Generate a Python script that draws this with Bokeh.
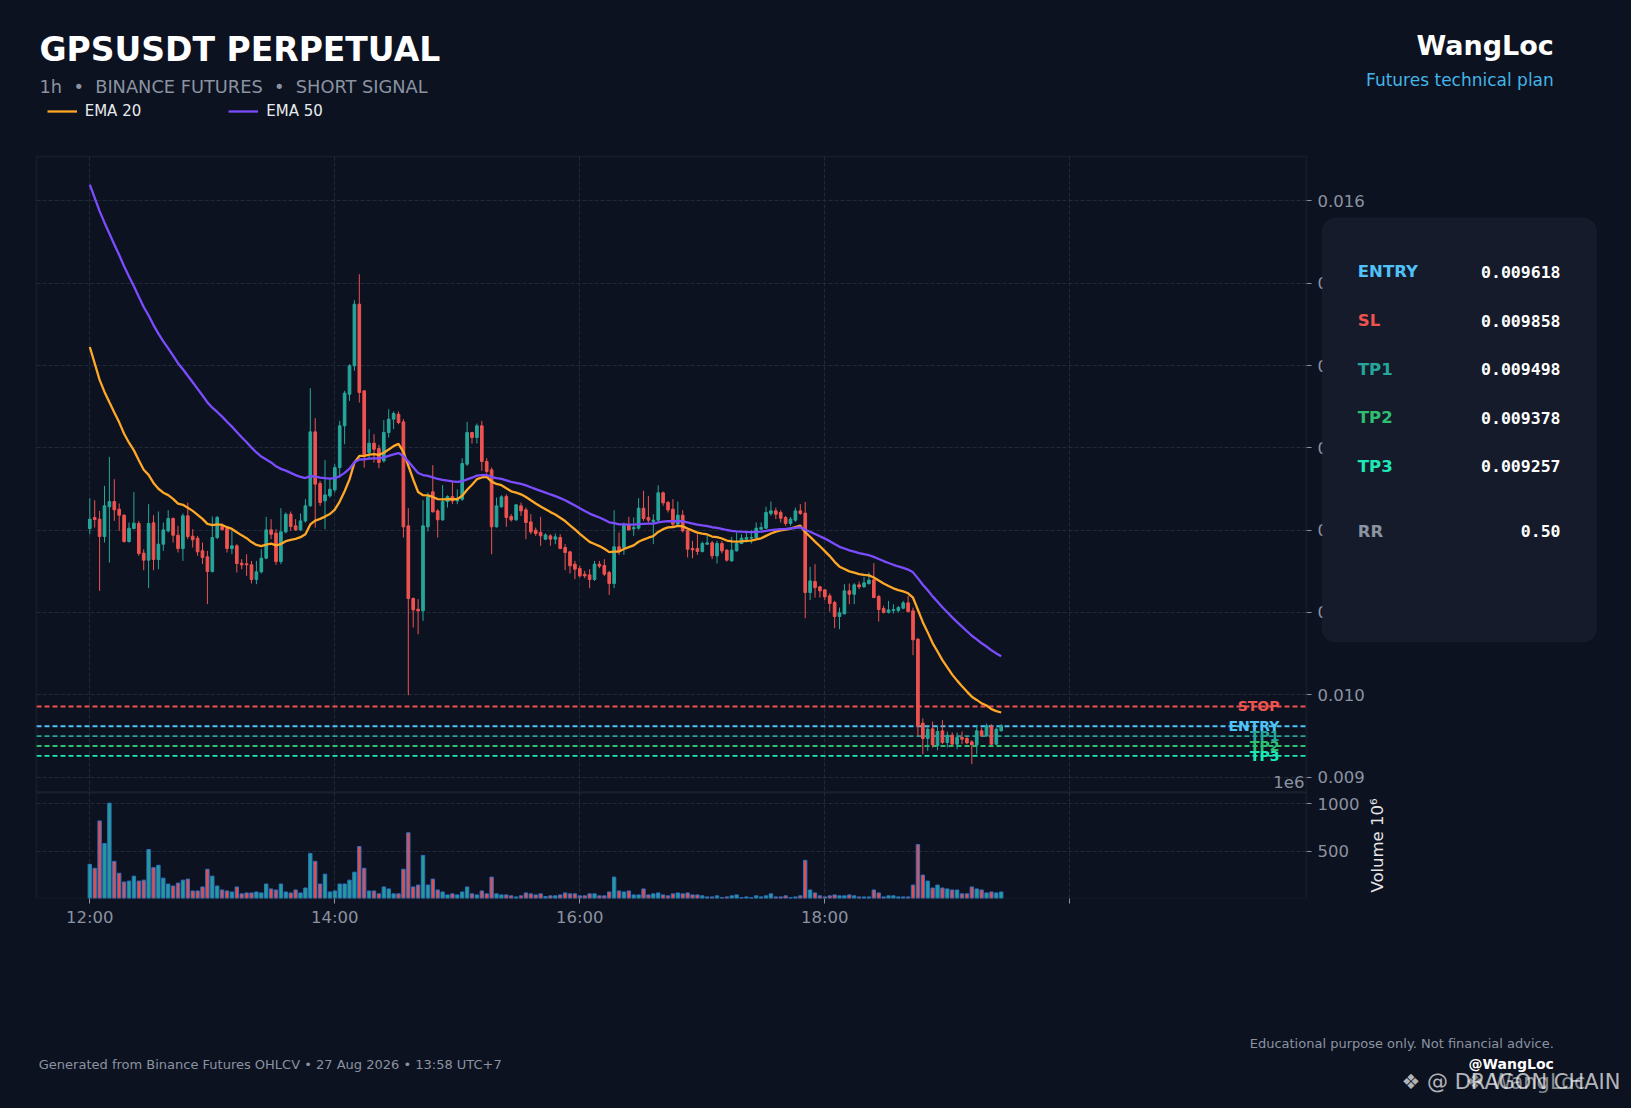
import math
import pandas as pd
from bokeh.plotting import figure
from bokeh.layouts import column
from bokeh.models import (ColumnDataSource, Range1d, FixedTicker, PrintfTickFormatter,
                          Label, BoxAnnotation, Legend, LegendItem, LinearAxis, Grid)
from bokeh.embed import file_html
from bokeh.resources import INLINE

# ---------------- data (prices in micro-USDT, volume in millions) ----------------
symbol = "GPSUSDT PERPETUAL"
start_time = "2026-08-27 12:00"
bar_freq = "144s"

open_micro = [12020, 12154, 12134, 11923, 12284, 12348, 12255, 12182, 11862, 12020,
              12081, 11721, 11636, 12089, 11644, 11830, 11992, 12142, 11939, 11777,
              12174, 11927, 11903, 11749, 11676, 11498, 11911, 12045, 12020, 11777,
              11810, 11599, 11591, 11579, 11401, 11494, 11660, 12004, 11964, 11619,
              11980, 12194, 12053, 12004, 12113, 12296, 13195, 12567, 12356, 12417,
              12490, 12761, 13268, 13652, 13997, 14746, 13693, 12944, 13057, 12992,
              12842, 13187, 13349, 13409, 13316, 12053, 11170, 11040, 11020, 12041,
              12466, 12235, 12126, 12348, 12409, 12356, 12377, 12802, 13187, 13126,
              13268, 12834, 12733, 12041, 12284, 12409, 12166, 12126, 12296, 12247,
              12101, 12000, 11972, 11891, 11931, 11891, 11911, 11789, 11737, 11587,
              11534, 11465, 11457, 11401, 11587, 11571, 11486, 11352, 11798, 11789,
              12065, 12016, 12024, 12267, 12154, 12105, 12122, 12454, 12336, 12255,
              12073, 12182, 12000, 11777, 11777, 11741, 11830, 11846, 11688, 11838,
              11757, 11627, 11749, 11838, 11891, 11903, 11911, 12012, 12024, 12203,
              12235, 12215, 12154, 12081, 12122, 12235, 12207, 11243, 11376, 11312,
              11275, 11202, 11121, 10951, 10983, 11263, 11222, 11336, 11312, 11352,
              11397, 11194, 11048, 11000, 11024, 11024, 11052, 11117, 11020, 10676,
              9655, 9469, 9586, 9380, 9562, 9420, 9509, 9400, 9481, 9469,
              9428, 9392, 9562, 9501, 9615, 9400, 9562]

high_micro = [12389, 12365, 12235, 12539, 12891, 12620, 12324, 12194, 12093, 12462,
              12113, 11769, 12316, 12182, 12227, 12093, 12243, 12154, 12053, 12203,
              12336, 12012, 11931, 11850, 11749, 12166, 12174, 12081, 12041, 11992,
              11830, 11648, 11708, 11627, 11627, 11769, 12162, 12134, 12012, 12267,
              12215, 12227, 12134, 12203, 12377, 13725, 13361, 12599, 12851, 12620,
              12802, 13328, 13693, 14017, 14795, 15110, 13701, 13227, 13166, 13037,
              13337, 13470, 13442, 13442, 13349, 12267, 11182, 11162, 12365, 12458,
              12790, 12255, 12547, 12425, 12599, 12498, 12875, 13316, 13195, 13296,
              13328, 12875, 12761, 12397, 12425, 12437, 12194, 12316, 12336, 12275,
              12194, 12032, 12162, 11960, 11951, 11960, 11951, 11830, 11749, 11627,
              11567, 11506, 11526, 11627, 11627, 11648, 11506, 12243, 11972, 12093,
              12162, 12154, 12389, 12478, 12417, 12194, 12547, 12470, 12356, 12377,
              12348, 12243, 12012, 11870, 11951, 11862, 11931, 11870, 11870, 11870,
              11769, 11919, 11972, 11951, 11972, 12000, 12093, 12093, 12284, 12348,
              12275, 12243, 12174, 12162, 12275, 12316, 12344, 11555, 11587, 11324,
              11283, 11231, 11141, 11060, 11344, 11352, 11356, 11376, 11433, 11486,
              11599, 11214, 11081, 11141, 11101, 11081, 11141, 11202, 11060, 10688,
              9712, 9623, 9675, 9623, 9692, 9554, 9542, 9542, 9554, 9493,
              9449, 9635, 9602, 9651, 9643, 9602, 9643]

low_micro = [11951, 12032, 11263, 11850, 11607, 12113, 11992, 11850, 11850, 12012,
             11688, 11514, 11295, 11514, 11526, 11749, 11972, 11850, 11729, 11627,
             11891, 11789, 11688, 11587, 11101, 11486, 11891, 11992, 11729, 11708,
             11486, 11526, 11445, 11352, 11344, 11474, 11648, 11891, 11579, 11587,
             11960, 11992, 11992, 11992, 12093, 12284, 12032, 12296, 12012, 12397,
             12458, 12640, 13045, 13571, 13936, 13551, 12761, 12863, 12822, 12753,
             12822, 13126, 13227, 13288, 11911, 9995, 10817, 10736, 10898, 11984,
             12215, 11911, 12113, 12275, 12316, 12316, 12356, 12782, 13053, 13053,
             12721, 12689, 11708, 12032, 12275, 12041, 12105, 12113, 12174, 11891,
             11951, 11931, 11810, 11879, 11810, 11830, 11769, 11514, 11474, 11405,
             11425, 11417, 11295, 11384, 11538, 11445, 11214, 11295, 11700, 11700,
             11992, 11931, 12008, 12113, 12093, 11830, 12105, 12296, 12215, 12032,
             12053, 11972, 11668, 11660, 11700, 11729, 11822, 11648, 11595, 11717,
             11619, 11619, 11741, 11830, 11850, 11838, 11903, 12000, 12012, 12174,
             12134, 12093, 12053, 12053, 12101, 12186, 10931, 11150, 11182, 11182,
             11150, 11012, 10809, 10797, 10979, 11101, 11101, 11283, 11303, 11336,
             11174, 10890, 10988, 10988, 10988, 11000, 11040, 11000, 10481, 9501,
             9278, 9319, 9359, 9327, 9400, 9359, 9392, 9339, 9400, 9400,
             9157, 9278, 9489, 9489, 9392, 9392, 9554]

close_micro = [12134, 12130, 11923, 12296, 12348, 12247, 12182, 11862, 12024, 12085,
               11717, 11636, 12081, 11644, 11830, 12004, 12142, 11939, 11777, 12174,
               11923, 11883, 11737, 11668, 11498, 11911, 12154, 12008, 11777, 11810,
               11595, 11579, 11579, 11401, 11494, 11660, 12004, 11951, 11619, 11980,
               12194, 12045, 12004, 12113, 12296, 13195, 12559, 12336, 12429, 12498,
               12761, 13268, 13665, 13997, 14746, 13673, 12923, 13057, 12984, 12822,
               13187, 13349, 13418, 13308, 12041, 11170, 11032, 11020, 12053, 12405,
               12223, 12126, 12348, 12409, 12356, 12389, 12810, 13187, 13126, 13268,
               12834, 12713, 12041, 12296, 12405, 12154, 12126, 12308, 12235, 12093,
               11980, 11960, 11931, 11943, 11891, 11919, 11777, 11729, 11567, 11526,
               11445, 11445, 11401, 11587, 11563, 11465, 11352, 11798, 11749, 12061,
               12004, 12032, 12267, 12142, 12122, 12122, 12454, 12332, 12247, 12073,
               12182, 11992, 11769, 11761, 11741, 11838, 11846, 11688, 11838, 11749,
               11636, 11757, 11838, 11903, 11911, 11911, 12024, 12032, 12215, 12235,
               12194, 12146, 12081, 12134, 12235, 12203, 11243, 11384, 11303, 11263,
               11190, 11109, 10951, 10996, 11263, 11222, 11336, 11312, 11360, 11393,
               11182, 11036, 11000, 11032, 11036, 11060, 11117, 11012, 10668, 9619,
               9469, 9582, 9392, 9554, 9420, 9509, 9400, 9481, 9461, 9416,
               9392, 9562, 9501, 9623, 9400, 9582, 9623]

volume_m = [361, 319, 819, 580, 1007, 392, 267, 174, 184, 236,
            184, 194, 517, 326, 351, 215, 153, 132, 163, 194,
            205, 80, 80, 122, 309, 236, 132, 90, 80, 69,
            122, 49, 59, 59, 69, 59, 153, 101, 90, 153,
            69, 59, 90, 59, 111, 476, 392, 153, 257, 69,
            80, 153, 153, 194, 278, 549, 319, 80, 80, 49,
            122, 101, 49, 49, 309, 694, 122, 142, 455, 142,
            205, 90, 69, 38, 49, 38, 69, 122, 49, 38,
            80, 49, 226, 49, 38, 38, 28, 17, 28, 59,
            49, 38, 49, 20, 28, 28, 38, 59, 49, 49,
            28, 28, 49, 49, 28, 28, 69, 226, 80, 69,
            80, 38, 38, 101, 38, 49, 59, 38, 28, 49,
            59, 49, 59, 38, 38, 28, 17, 17, 28, 10,
            17, 28, 38, 10, 17, 10, 28, 17, 28, 49,
            17, 17, 28, 10, 17, 28, 403, 90, 59, 28,
            17, 28, 38, 28, 28, 38, 28, 17, 17, 17,
            90, 59, 17, 28, 28, 17, 17, 17, 142, 569,
            247, 184, 111, 142, 111, 101, 90, 90, 49, 49,
            122, 101, 90, 59, 69, 59, 69]

entry = 0.009618
stop_loss = 0.009858
tp1 = 0.009498
tp2 = 0.009378
tp3 = 0.009257
ema20_start = 0.014226   # EMA values at the first visible candle
ema50_start = 0.016198

x_tick_minutes = [0, 120, 240, 360, 480]
x_tick_labels = ["12:00", "14:00", "16:00", "18:00", ""]
price_ticks = [0.009, 0.010, 0.011, 0.012, 0.013, 0.014, 0.015, 0.016]
volume_ticks = [500, 1000]

# ---------------- styling ----------------
BG = "#0c1220"
FRAME = "#2b313d"
GRID = "#232a37"
GRAY = "#8b93a1"
UP = "#26a69a"
DOWN = "#ef5350"
ORANGE = "#ffa726"
PURPLE = "#7c4dff"
ENTRY_C = "#4fc3f7"
TP1_C = "#26a69a"
TP2_C = "#2fbf71"
TP3_C = "#1de9b6"
BOX_FILL = "#151b2a"
BOX_LINE = "#262d3b"
FONT = "DejaVu Sans"
MONO = "DejaVu Sans Mono"

W = 1631
MAIN_H, MAIN_BOTTOM = 950, 52      # header + price + volume, x-axis below
FRAME_H = MAIN_H - MAIN_BOTTOM     # 898 px
FOOT_H = 156
# plot-area limits (data units) and full-canvas extents
X_LEFT, X_RIGHT = -26.1, 595.9
Y_BOTTOM, Y_TOP = 0.008815, 0.016541          # price panel
VOL_TOP = 1119                                 # volume panel top
CANVAS_X = (-43.74, 755.1)
CANVAS_Y = (0.0075249, 0.018436)
CANVAS_VOL = (0, 9482.6)

# ---------------- derived ----------------
to_price = lambda seq: [v / 1e6 for v in seq]
open_ = to_price(open_micro)
high = to_price(high_micro)
low = to_price(low_micro)
close = to_price(close_micro)

times = pd.date_range(start_time, periods=len(close), freq=bar_freq)
minutes = [(t - times[0]).total_seconds() / 60.0 for t in times]


def ema(values, span, first):
    a = 2.0 / (span + 1.0)
    out = [first]
    for val in values[1:]:
        out.append(a * val + (1 - a) * out[-1])
    return out


ema20 = ema(close, 20, ema20_start)
ema50 = ema(close, 50, ema50_start)
colors = [UP if c >= o else DOWN for o, c in zip(open_, close)]

src = ColumnDataSource(dict(
    x=minutes, open=open_, high=high, low=low, close=close,
    top=[max(o, c) for o, c in zip(open_, close)],
    bottom=[min(o, c) for o, c in zip(open_, close)],
    color=colors, vol=volume_m, ema20=ema20, ema50=ema50))

levels = ColumnDataSource(dict(
    name=["STOP", "ENTRY", "TP1", "TP2", "TP3"],
    value=[stop_loss, entry, tp1, tp2, tp3],
    color=[DOWN, ENTRY_C, TP1_C, TP2_C, TP3_C],
    x0=[X_LEFT] * 5, x1=[X_RIGHT] * 5))


def lab(fig, x, y, text, size, color, bold=False, align="left", baseline="middle",
        font=FONT, alpha=1.0, angle=0.0, xr_name="pg", yr_name="pg"):
    fig.add_layout(Label(x=x, y=y, x_range_name=xr_name, y_range_name=yr_name, text=text,
                         text_font=font, text_font_size=f"{size}px", text_color=color,
                         text_font_style="bold" if bold else "normal", text_align=align,
                         text_baseline=baseline, text_alpha=alpha, angle=angle))


def style_axis(ax):
    ax.axis_line_color = None
    ax.major_tick_line_color = GRAY
    ax.major_tick_out = 5
    ax.major_tick_in = 0
    ax.minor_tick_line_color = None
    ax.major_label_text_color = GRAY
    ax.major_label_text_font = FONT
    ax.major_label_text_font_size = "16.5px"


# ---------------- main figure: header + price + volume (frame covers full width) ----------------
p = figure(width=W, height=MAIN_H, x_range=Range1d(*CANVAS_X), y_range=Range1d(*CANVAS_Y),
           x_axis_location="below", y_axis_location="right", toolbar_location=None, tools="",
           output_backend="svg", min_border_left=0, min_border_right=0, min_border_top=0,
           min_border_bottom=MAIN_BOTTOM,
           background_fill_color=BG, border_fill_color=BG, outline_line_color=None)
p.extra_x_ranges = {"pg": Range1d(0, W)}
p.extra_y_ranges = {"pg": Range1d(FRAME_H, 0), "vol": Range1d(*CANVAS_VOL)}

# price axis (fixed at the plot-area right edge)
p.yaxis.fixed_location = X_RIGHT
p.yaxis.bounds = (Y_BOTTOM, Y_TOP)
p.yaxis.ticker = FixedTicker(ticks=price_ticks)
p.yaxis.formatter = PrintfTickFormatter(format="%.3f")
style_axis(p.yaxis[0])
p.yaxis.major_label_standoff = 6

# time axis
p.xaxis.ticker = FixedTicker(ticks=x_tick_minutes)
p.xaxis.major_label_overrides = {t: s for t, s in zip(x_tick_minutes, x_tick_labels)}
style_axis(p.xaxis[0])
p.xaxis.major_label_standoff = 4

p.ygrid.grid_line_color = GRID
p.ygrid.grid_line_dash = "4 2"
p.ygrid.cross_bounds = (X_LEFT, X_RIGHT)
p.xgrid.grid_line_color = GRID
p.xgrid.grid_line_dash = "4 2"
p.xgrid.cross_bounds = (CANVAS_Y[0], Y_TOP)

# volume axis + grid
vax = LinearAxis(y_range_name="vol", ticker=FixedTicker(ticks=volume_ticks),
                 formatter=PrintfTickFormatter(format="%d"), fixed_location=X_RIGHT,
                 bounds=(0, VOL_TOP))
style_axis(vax)
vax.major_label_standoff = 6
p.add_layout(vax, "right")
p.add_layout(Grid(dimension=1, y_range_name="vol", ticker=FixedTicker(ticks=volume_ticks),
                  grid_line_color=GRID, grid_line_dash="4 2", cross_bounds=(X_LEFT, X_RIGHT)))

# marks
p.segment(x0="x0", y0="value", x1="x1", y1="value", line_color="color", line_width=1.8,
          line_dash="5 3", source=levels)
p.segment(x0="x", y0="low", x1="x", y1="high", line_color="color", line_width=1, source=src)
p.vbar(x="x", width=1.3, top="top", bottom="bottom", fill_color="color",
       line_color="color", line_width=1, source=src)
r20 = p.line("x", "ema20", source=src, line_color=ORANGE, line_width=2.3)
r50 = p.line("x", "ema50", source=src, line_color=PURPLE, line_width=2.3)
p.vbar(x="x", width=1.65, top="vol", bottom=0, y_range_name="vol", fill_color="color",
       fill_alpha=0.95, line_color="#2b72c8", line_width=1, source=src)

# plot-area frames
p.add_layout(BoxAnnotation(left=X_LEFT, right=X_RIGHT, bottom=Y_BOTTOM, top=Y_TOP,
                           fill_alpha=0, line_color=FRAME, line_width=2))
p.add_layout(BoxAnnotation(left=X_LEFT, right=X_RIGHT, bottom=0, top=VOL_TOP, y_range_name="vol",
                           fill_alpha=0, line_color=FRAME, line_width=2))

# level tags
for name, val, col in zip(levels.data["name"], levels.data["value"], levels.data["color"]):
    lab(p, 1279, val, name, 14, col, bold=True, align="right", yr_name="default")

lab(p, 1304, 781.7, "1e6", 16.5, GRAY, align="right")
lab(p, 1377, 845, "Volume 10\u2076", 16.5, "#e6e6e6", align="center", angle=math.pi / 2)

# header
lab(p, 39, 48.7, symbol, 33, "#ffffff", bold=True)
lab(p, 39, 86, "1h \u00a0\u2022 \u00a0BINANCE FUTURES \u00a0\u2022 \u00a0SHORT SIGNAL", 17.8, GRAY)
lab(p, 1553.3, 45.4, "WangLoc", 27, "#ffffff", bold=True, align="right")
lab(p, 1553.3, 79.4, "Futures technical plan", 17, "#45b4e6", align="right")

legend = Legend(items=[LegendItem(label="EMA 20", renderers=[r20]),
                       LegendItem(label="EMA 50", renderers=[r50])],
                location=(46.7, FRAME_H - 120), orientation="horizontal",
                background_fill_alpha=0, border_line_color=None,
                label_text_color="#e8eaed", label_text_font=FONT, label_text_font_size="15px",
                glyph_width=30, glyph_height=14, label_height=14, label_standoff=8,
                spacing=87, padding=0, margin=0)
p.add_layout(legend)

# info box
p.add_layout(BoxAnnotation(left=1322, right=1595.5, top=218, bottom=641,
                           x_range_name="pg", y_range_name="pg",
                           fill_color=BOX_FILL, fill_alpha=1, line_color=BOX_LINE,
                           line_width=1.5, border_radius=13))
rr = (entry - tp1) / (stop_loss - entry)
rows = [("ENTRY", entry, ENTRY_C, 271), ("SL", stop_loss, DOWN, 320), ("TP1", tp1, TP1_C, 368.7),
        ("TP2", tp2, TP2_C, 417), ("TP3", tp3, TP3_C, 465.7)]
for name, val, col, yy in rows:
    lab(p, 1357.3, yy, name, 16.5, col, bold=True)
    lab(p, 1560, yy, f"{val:.6f}", 16.5, "#ffffff", bold=True, align="right", font=MONO)
lab(p, 1357.3, 530.7, "RR", 16.5, GRAY, bold=True)
lab(p, 1560, 530.7, f"{rr:.2f}", 16.5, "#ffffff", bold=True, align="right", font=MONO)

# ---------------- footer ----------------
f = figure(width=W, height=FOOT_H, x_range=Range1d(0, W),
           y_range=Range1d(MAIN_H + FOOT_H, MAIN_H),
           x_axis_location=None, y_axis_location=None, toolbar_location=None, tools="",
           output_backend="svg", min_border=0,
           background_fill_color=BG, border_fill_color=BG, outline_line_color=None)
f.grid.visible = False
kw = dict(xr_name="default", yr_name="default")
lab(f, 38.3, 1063.8, "Generated from Binance Futures OHLCV \u2022 27 Aug 2026 \u2022 13:58 UTC+7", 13, GRAY, **kw)
lab(f, 1553.3, 1042.7, "Educational purpose only. Not financial advice.", 13, GRAY, align="right", **kw)
lab(f, 1553.3, 1063.3, "@WangLoc", 14, "#ffffff", bold=True, align="right", **kw)
lab(f, 1401, 1081, "\u2756 @ DRAGON CHAIN", 21, "#ffffff", alpha=0.7, **kw)
lab(f, 1465, 1081, "\u2756 WangLoc", 21, "#ffffff", alpha=0.5, **kw)

layout = column(p, f, spacing=0, styles={"background-color": BG})
html = file_html(layout, INLINE, title="GPSUSDT PERPETUAL")
html = html.replace("<body>", '<body style="background-color:%s;">' % BG, 1)
html = html.replace("<html", '<html style="background-color:%s;"' % BG, 1)
open("out.html", "w").write(html)
